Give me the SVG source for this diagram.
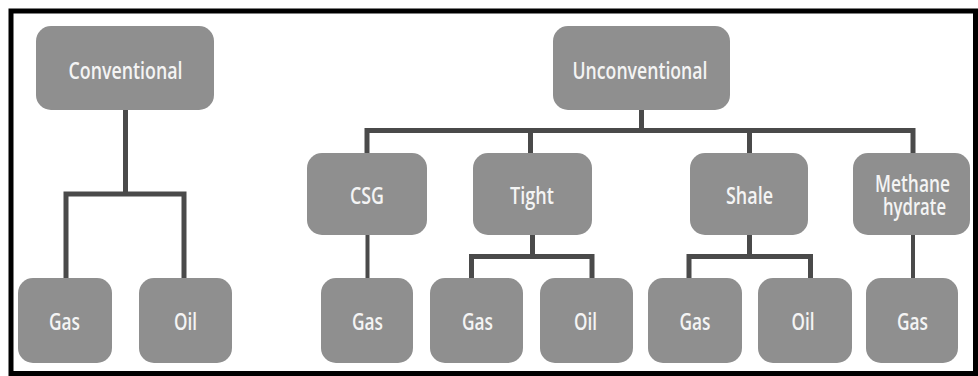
<svg xmlns="http://www.w3.org/2000/svg" width="978" height="376" viewBox="0 0 978 376">
<style>
.node rect{fill:#8f8f8f;}
.node text{fill:#f4f4f4;font-family:"Open Sans","Liberation Sans",sans-serif;font-weight:600;font-size:23px;text-anchor:middle;}
.conn path{fill:none;stroke:#4a4a4a;stroke-width:5;stroke-linejoin:miter;stroke-linecap:butt;}
</style>
<rect x="0" y="0" width="978" height="376" fill="#ffffff"/>
<rect x="11" y="11" width="964.5" height="362.5" fill="#ffffff" stroke="#000000" stroke-width="5"/>
<g class="conn" id="connectors">
<path d="M125.5 110 V194 M66 280 V194 H184 V280"/>
<path d="M641.5 110 V130.5 M367 153 V130.5 H913 V153 M530.5 130.5 V153 M749.5 130.5 V153"/>
<path d="M367.5 235 V278" style="stroke-width:4"/>
<path d="M532.5 235 V256.5 M471.5 278 V256.5 H592 V278"/>
<path d="M749.5 235 V256.5 M689 278 V256.5 H810.5 V278"/>
<path d="M913 235 V278" style="stroke-width:4"/>
</g>
<g class="node" id="n-conventional"><rect x="36" y="26" width="178" height="84" rx="15"/><text x="125.5" y="79" textLength="114" lengthAdjust="spacingAndGlyphs">Conventional</text></g>
<g class="node" id="n-unconventional"><rect x="553" y="26" width="177" height="84" rx="15"/><text x="640" y="79" textLength="135" lengthAdjust="spacingAndGlyphs">Unconventional</text></g>
<g class="node" id="n-csg"><rect x="307" y="153" width="120" height="82" rx="15"/><text x="367" y="204" textLength="34" lengthAdjust="spacingAndGlyphs">CSG</text></g>
<g class="node" id="n-tight"><rect x="473" y="153" width="119" height="82" rx="15"/><text x="532" y="204" textLength="44" lengthAdjust="spacingAndGlyphs">Tight</text></g>
<g class="node" id="n-shale"><rect x="690" y="153" width="118" height="82" rx="15"/><text x="749.5" y="204" textLength="47" lengthAdjust="spacingAndGlyphs">Shale</text></g>
<g class="node" id="n-methane"><rect x="853" y="153" width="117" height="82" rx="15"/><text x="912.5" y="192" textLength="75" lengthAdjust="spacingAndGlyphs">Methane</text><text x="914.5" y="215" textLength="63" lengthAdjust="spacingAndGlyphs">hydrate</text></g>
<g class="node" id="n-conv-gas"><rect x="18" y="278" width="94" height="85" rx="15"/><text x="64.5" y="330" textLength="31" lengthAdjust="spacingAndGlyphs">Gas</text></g>
<g class="node" id="n-conv-oil"><rect x="139" y="278" width="93" height="85" rx="15"/><text x="185.5" y="330" textLength="23" lengthAdjust="spacingAndGlyphs">Oil</text></g>
<g class="node" id="n-csg-gas"><rect x="321" y="278" width="92" height="85" rx="15"/><text x="367.5" y="330" textLength="31" lengthAdjust="spacingAndGlyphs">Gas</text></g>
<g class="node" id="n-tight-gas"><rect x="430" y="278" width="93" height="85" rx="15"/><text x="477.5" y="330" textLength="31" lengthAdjust="spacingAndGlyphs">Gas</text></g>
<g class="node" id="n-tight-oil"><rect x="540" y="278" width="93" height="85" rx="15"/><text x="585.5" y="330" textLength="23" lengthAdjust="spacingAndGlyphs">Oil</text></g>
<g class="node" id="n-shale-gas"><rect x="648" y="278" width="94" height="85" rx="15"/><text x="695" y="330" textLength="31" lengthAdjust="spacingAndGlyphs">Gas</text></g>
<g class="node" id="n-shale-oil"><rect x="758" y="278" width="94" height="85" rx="15"/><text x="803" y="330" textLength="23" lengthAdjust="spacingAndGlyphs">Oil</text></g>
<g class="node" id="n-methane-gas"><rect x="866" y="278" width="92" height="85" rx="15"/><text x="912.5" y="330" textLength="31" lengthAdjust="spacingAndGlyphs">Gas</text></g>
</svg>
